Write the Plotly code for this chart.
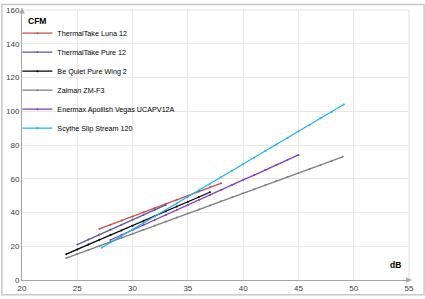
import plotly.graph_objects as go

names = ["ThermalTake Luna 12", "ThermalTake Pure 12", "Be Quiet Pure Wing 2",
         "Zalman ZM-F3", "Enermax Apollish Vegas UCAPV12A", "Scythe Slip Stream 120"]
colors = ["#c0504d", "#5a5a9c", "#000000", "#7f7f7f", "#7f3fbf", "#1fb4ec"]

luna_db = [27, 28, 29, 30, 31, 32, 33, 34, 35, 36, 37, 38]
luna_cfm = [30.3, 32.8, 35.2, 37.7, 40.1, 42.6, 45.0, 47.5, 50.0, 52.4, 54.9, 57.3]

pure_db = [25, 26, 27, 28, 29, 30, 31, 32, 33]
pure_cfm = [21.0, 24.0, 26.9, 29.8, 32.8, 35.7, 38.6, 41.6, 44.5]

bq_db = [24, 25, 26, 27, 28, 29, 30, 31, 32, 33, 34, 35, 36, 37]
bq_cfm = [15.3, 18.1, 21.0, 23.8, 26.6, 29.4, 32.2, 35.1, 37.9, 40.7, 43.5, 46.3, 49.2, 52.0]

zal_db = [24, 25, 26, 27, 28, 29, 30, 31, 32, 33, 34, 35, 36, 37, 38, 39, 40,
          41, 42, 43, 44, 45, 46, 47, 48, 49]
zal_cfm = [13.0, 15.4, 17.8, 20.2, 22.6, 25.0, 27.4, 29.8, 32.2, 34.6, 37.0, 39.4,
           41.8, 44.2, 46.6, 49.0, 51.4, 53.8, 56.2, 58.6, 61.0, 63.4, 65.8, 68.2, 70.6, 73.0]

ene_db = [28, 29, 30, 31, 32, 33, 34, 35, 36, 37, 38, 39, 40, 41, 42, 43, 44, 45]
ene_cfm = [23.7, 26.7, 29.6, 32.6, 35.6, 38.5, 41.5, 44.4, 47.4, 50.4, 53.3, 56.3,
           59.3, 62.2, 65.2, 68.1, 71.1, 74.1]

scy_db = [27.2, 28, 29, 30, 31, 32, 33, 34, 35, 36, 37, 38, 39, 40, 41, 42, 43,
          44, 45, 46, 47, 48, 49.1]
scy_cfm = [19.1, 22.2, 26.1, 30.0, 33.8, 37.7, 41.6, 45.4, 49.3, 53.2, 57.1, 60.9,
           64.8, 68.7, 72.5, 76.4, 80.3, 84.2, 88.0, 91.9, 95.8, 99.6, 104.0]

series = [(luna_db, luna_cfm), (pure_db, pure_cfm), (bq_db, bq_cfm),
          (zal_db, zal_cfm), (ene_db, ene_cfm), (scy_db, scy_cfm)]

x_ticks = [20, 25, 30, 35, 40, 45, 50, 55]
y_ticks = [0, 20, 40, 60, 80, 100, 120, 140, 160]

fig = go.Figure()
for i, ((xs, ys), name, c) in enumerate(zip(series, names, colors)):
    fig.add_trace(go.Scatter(
        x=xs, y=ys, name=name, mode="lines+markers",
        line=dict(color=c, width=1.3),
        marker=dict(color=c, size=2),
        legendgroup=f"g{i}",
    ))

font = "Liberation Sans"
fig.update_layout(
    width=425, height=299,
    margin=dict(l=21, r=16, t=6, b=16),
    paper_bgcolor="white", plot_bgcolor="white",
    font=dict(family=font, size=8, color="#404040"),
    showlegend=True,
    legend=dict(x=-0.012, y=0.968, xanchor="left", yanchor="top",
                bgcolor="rgba(255,255,255,0)", font=dict(size=7.2, color="#000000"),
                traceorder="grouped", tracegroupgap=0, itemwidth=30),
    xaxis=dict(range=[20, 55], tickvals=x_ticks, showgrid=True, gridcolor="#e8e8e8",
               gridwidth=1, zeroline=False, showline=True, linecolor="#a6a6a6",
               linewidth=1, ticks="", tickfont=dict(size=8, color="#404040"),
               mirror=False),
    yaxis=dict(range=[0, 160], tickvals=y_ticks, showgrid=True, gridcolor="#e8e8e8",
               gridwidth=1, zeroline=False, showline=True, linecolor="#a6a6a6",
               linewidth=1, ticks="", tickfont=dict(size=8, color="#404040")),
    annotations=[
        dict(text="<b>CFM</b>", xref="paper", yref="paper", x=0.01, y=0.96,
             xanchor="left", yanchor="middle", showarrow=False,
             font=dict(size=8.5, color="#000000")),
        dict(text="<b>dB</b>", xref="paper", yref="paper", x=0.985, y=0.055,
             xanchor="right", yanchor="middle", showarrow=False,
             font=dict(size=8.5, color="#000000")),
    ],
    shapes=[
        dict(type="rect", xref="paper", yref="paper", x0=-0.052, x1=1.039,
             y0=-0.055, y1=1.02, line=dict(color="#c8c8c8", width=1.5)),
        dict(type="line", xref="paper", yref="paper", x0=0, x1=1, y0=1, y1=1,
             line=dict(color="#e0e0e0", width=1)),
        dict(type="line", xref="paper", yref="paper", x0=1, x1=1, y0=0, y1=1,
             line=dict(color="#e0e0e0", width=1)),
        dict(type="path", xref="paper", yref="paper",
             path="M -0.006 0.988 L 0.006 0.988 L 0 1.008 Z",
             fillcolor="#a6a6a6", line=dict(color="#a6a6a6", width=0.5)),
        dict(type="path", xref="paper", yref="paper",
             path="M 0.993 0.009 L 0.993 -0.009 L 1.006 0 Z",
             fillcolor="#a6a6a6", line=dict(color="#a6a6a6", width=0.5)),
    ],
)

fig.write_html("out.html")
